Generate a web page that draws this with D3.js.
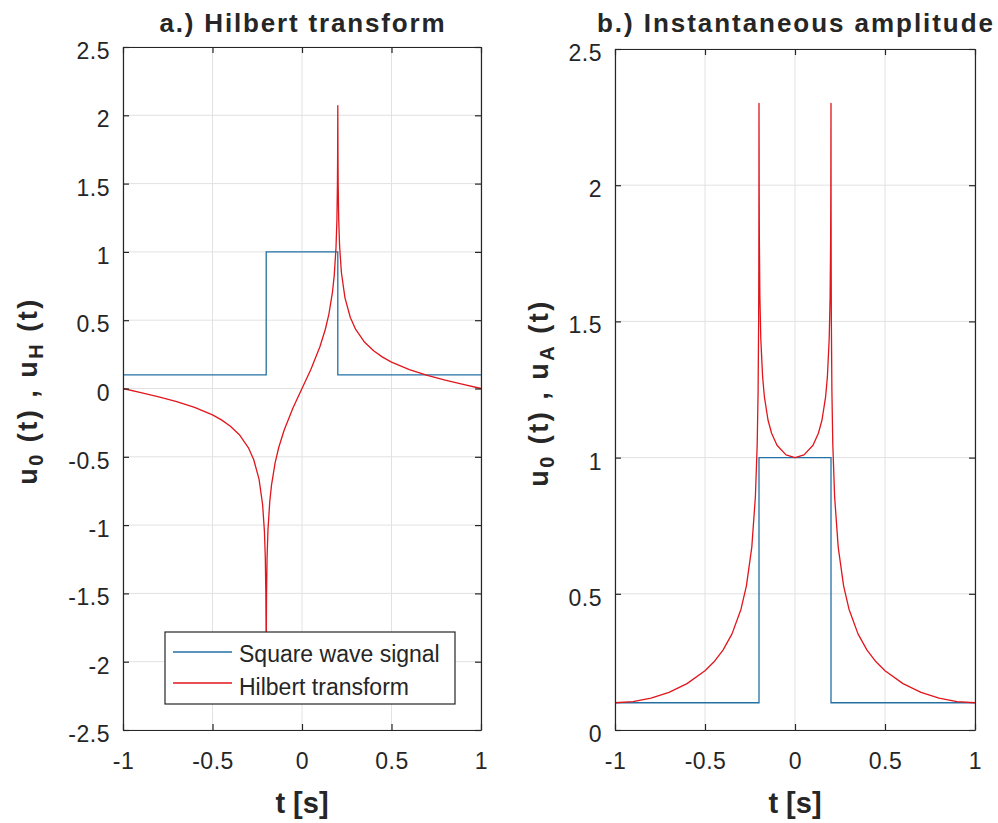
<!DOCTYPE html>
<html><head><meta charset="utf-8">
<script src="https://cdn.jsdelivr.net/npm/d3@7"></script>
<style>
body{margin:0;background:#fff}
text{font-family:"Liberation Sans",Arial,Helvetica,sans-serif;fill:#262626}
</style>
</head><body>
<svg id="c" width="998" height="823"></svg>
<script>
// ---- data ----
const tSamples = [-1, -0.9, -0.8, -0.7, -0.6, -0.5, -0.45, -0.4, -0.35, -0.3, -0.27, -0.24, -0.22, -0.21, -0.205, -0.202, -0.201, -0.2005, -0.2,
  -0.1995, -0.199, -0.198, -0.195, -0.19, -0.18, -0.17, -0.15, -0.13, -0.1, -0.05, 0,
  0.05, 0.1, 0.13, 0.15, 0.17, 0.18, 0.19, 0.195, 0.198, 0.199, 0.1995, 0.2,
  0.2005, 0.201, 0.202, 0.205, 0.21, 0.22, 0.24, 0.27, 0.3, 0.35, 0.4, 0.45, 0.5, 0.6, 0.7, 0.8, 0.9, 1];
const hilbertValues = [0, -0.0295, -0.0607, -0.0957, -0.1379, -0.1932, -0.2295, -0.2757, -0.3383, -0.4322, -0.5196, -0.6640, -0.8512, -1.0438, -1.2393, -1.500, -1.698, -1.8963, -2.07,
  -1.8956, -1.6967, -1.4975, -1.2331, -1.0314, -0.8264, -0.7035, -0.5432, -0.4319, -0.3052, -0.1416, 0,
  0.1416, 0.3052, 0.4319, 0.5432, 0.7035, 0.8264, 1.0314, 1.2331, 1.4975, 1.6967, 1.8956, 2.07,
  1.8963, 1.698, 1.500, 1.2393, 1.0438, 0.8512, 0.6640, 0.5196, 0.4322, 0.3383, 0.2757, 0.2295, 0.1932, 0.1379, 0.0957, 0.0607, 0.0295, 0];
const amplitudeValues = [0.1, 0.1043, 0.1170, 0.1384, 0.1703, 0.2176, 0.2503, 0.2933, 0.3528, 0.4436, 0.5291, 0.6715, 0.8571, 1.0486, 1.2433, 1.5033, 1.7009, 1.8990, 2.30,
  2.1432, 1.9695, 1.8007, 1.5876, 1.4366, 1.2973, 1.2227, 1.1380, 1.0893, 1.0455, 1.0100, 1.0,
  1.0100, 1.0455, 1.0893, 1.1380, 1.2227, 1.2973, 1.4366, 1.5876, 1.8007, 1.9695, 2.1432, 2.30,
  1.8990, 1.7009, 1.5033, 1.2433, 1.0486, 0.8571, 0.6715, 0.5291, 0.4436, 0.3528, 0.2933, 0.2503, 0.2176, 0.1703, 0.1384, 0.1170, 0.1043, 0.1];
const squareT = [-1, -0.2, -0.2, 0.2, 0.2, 1];
const squareValues = [0.1, 0.1, 1, 1, 0.1, 0.1];
const xTicks = [-1, -0.5, 0, 0.5, 1];
const yTicksA = [-2.5, -2, -1.5, -1, -0.5, 0, 0.5, 1, 1.5, 2, 2.5];
const yTicksB = [0, 0.5, 1, 1.5, 2, 2.5];
const titles = ["a.) Hilbert transform", "b.) Instantaneous amplitude"];
const legendLabels = ["Square wave signal", "Hilbert transform"];
const xLabel = "t [s]";

// ---- styles ----
const BLUE = "#2470a3", RED = "#e0161c", AXIS = "#262626", GRID = "#e2e2e2";
const svg = d3.select("#c");

function panel(cfg) {
  const x = d3.scaleLinear().domain([-1, 1]).range([cfg.left, cfg.right]);
  const y = d3.scaleLinear().domain(cfg.yDomain).range([cfg.bottom, cfg.top]);
  const g = svg.append("g");
  // grid
  g.append("g").selectAll("line").data(xTicks).join("line")
    .attr("x1", d => x(d)).attr("x2", d => x(d)).attr("y1", cfg.top).attr("y2", cfg.bottom)
    .attr("stroke", GRID).attr("stroke-width", 1);
  g.append("g").selectAll("line").data(cfg.yTicks).join("line")
    .attr("y1", d => y(d)).attr("y2", d => y(d)).attr("x1", cfg.left).attr("x2", cfg.right)
    .attr("stroke", GRID).attr("stroke-width", 1);
  const line = d3.line().x(d => x(d[0])).y(d => y(d[1]));
  g.append("path").datum(d3.zip(squareT, squareValues)).attr("d", line)
    .attr("fill", "none").attr("stroke", BLUE).attr("stroke-width", 1.3);
  g.append("path").datum(d3.zip(tSamples, cfg.values)).attr("d", line)
    .attr("fill", "none").attr("stroke", RED).attr("stroke-width", 1.3).attr("stroke-linejoin", "round");
  // axes
  const fs = "23px";
  const ab = g.append("g").attr("transform", `translate(0,${cfg.bottom})`)
    .call(d3.axisBottom(x).tickValues(xTicks).tickFormat(d => String(d)).tickSize(-6).tickSizeOuter(0).tickPadding(23));
  const at = g.append("g").attr("transform", `translate(0,${cfg.top})`)
    .call(d3.axisTop(x).tickValues(xTicks).tickFormat("").tickSize(-6).tickSizeOuter(0));
  const al = g.append("g").attr("transform", `translate(${cfg.left},0)`)
    .call(d3.axisLeft(y).tickValues(cfg.yTicks).tickFormat(d => String(d)).tickSize(-6).tickSizeOuter(0).tickPadding(13));
  const ar = g.append("g").attr("transform", `translate(${cfg.right},0)`)
    .call(d3.axisRight(y).tickValues(cfg.yTicks).tickFormat("").tickSize(-6).tickSizeOuter(0));
  [ab, at, al, ar].forEach(a => {
    a.select(".domain").attr("stroke", AXIS).attr("stroke-width", 1.2);
    a.selectAll(".tick line").attr("stroke", AXIS).attr("stroke-width", 1.2);
    a.selectAll(".tick text").attr("fill", "#333").style("font-size", fs)
      .style("font-family", '"Liberation Sans",Arial,sans-serif').style("letter-spacing", "0.5px");
  });
  al.selectAll(".tick text").attr("dy", "0.5em");
  // title
  g.append("text").attr("x", (cfg.left + cfg.right) / 2).attr("y", 32)
    .attr("text-anchor", "middle").attr("font-weight", "bold").attr("font-size", 26)
    .attr("textLength", cfg.titleW).attr("lengthAdjust", "spacing").attr("fill", "#111")
    .text(cfg.title);
  // x label
  g.append("text").attr("x", (cfg.left + cfg.right) / 2).attr("y", 813)
    .attr("text-anchor", "middle").attr("font-weight", "bold").attr("font-size", 29)
    .attr("fill", "#111").text(xLabel);
  // y label
  const yl = g.append("text").attr("transform", `translate(${cfg.ylx},${cfg.yly}) rotate(-90)`)
    .attr("text-anchor", "middle").attr("font-weight", "bold").attr("font-size", 27)
    .attr("fill", "#111").style("letter-spacing", "2.5px");
  yl.append("tspan").text("u");
  yl.append("tspan").attr("dy", 6).attr("font-size", 20).text("0");
  yl.append("tspan").attr("dy", -6).text(" (t) ,  u");
  yl.append("tspan").attr("dy", 6).attr("font-size", 20).text(cfg.sub);
  yl.append("tspan").attr("dy", -6).text(" (t)");
  return {g, x, y};
}

const A = panel({left: 123, right: 481, top: 47, bottom: 730, yDomain: [-2.5, 2.5], yTicks: yTicksA,
  values: hilbertValues, title: titles[0], titleW: 285, sub: "H", ylx: 37, yly: 391});
const B = panel({left: 615, right: 975, top: 49, bottom: 730, yDomain: [0, 2.5], yTicks: yTicksB,
  values: amplitudeValues, title: titles[1], titleW: 396, sub: "A", ylx: 548, yly: 393});

// legend in panel a
const lg = A.g.append("g");
lg.append("rect").attr("x", 165).attr("y", 632).attr("width", 290).attr("height", 72)
  .attr("fill", "#fff").attr("stroke", AXIS).attr("stroke-width", 1.2);
const legendColors = [BLUE, RED];
const legendY = [652, 683];
legendLabels.forEach((lab, i) => {
  lg.append("line").attr("x1", 173).attr("x2", 232).attr("y1", legendY[i]).attr("y2", legendY[i])
    .attr("stroke", legendColors[i]).attr("stroke-width", 1.3);
  lg.append("text").attr("x", 239).attr("y", legendY[i] + 10 + i * 2).attr("font-size", 23)
    .attr("fill", "#333").text(lab);
});
</script>
</body></html>
